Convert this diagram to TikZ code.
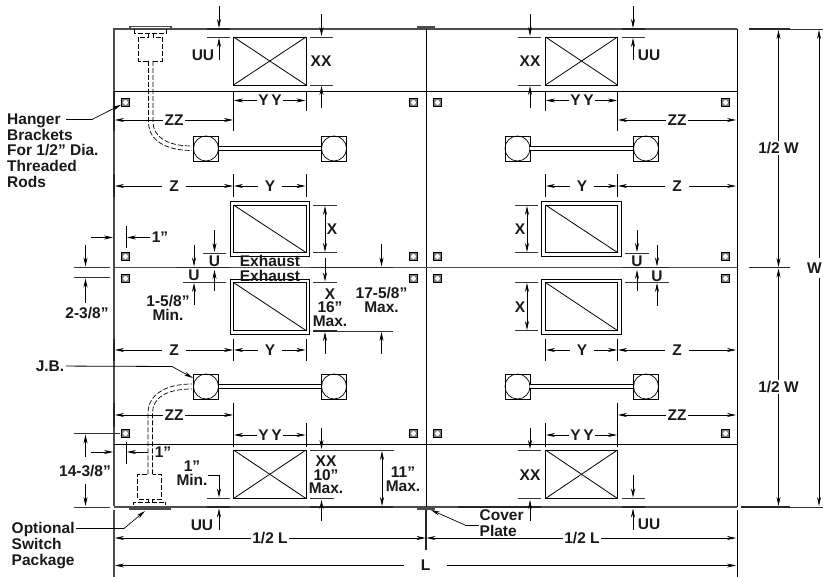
\documentclass[tikz,border=0pt]{standalone}
\usepackage{fontspec}
\setmainfont{Liberation Sans}
\usetikzlibrary{arrows.meta}

\begin{document}
\begin{tikzpicture}[x=1pt, y=-1pt,
    every node/.style={font=\fontsize{15.5}{15.7}\selectfont\bfseries, text=black!90, inner sep=1.5pt},
    dim/.style={-{Stealth[length=9pt, width=4pt]}, line width=0.7pt},
    twoway/.style={{Stealth[length=9pt, width=4pt]}-{Stealth[length=9pt, width=4pt]}, line width=0.7pt},
    ext/.style={line width=0.8pt, black!80},
    heavy/.style={line width=1.3pt, black!85},
    wall/.style={line width=1.1pt, black!70},
    thin/.style={line width=0.8pt},
    conduit/.style={line width=0.7pt, dash pattern=on 5pt off 2pt},
    jbbox/.style={rectangle, draw, line width=0.7pt, minimum size=25pt, inner sep=0pt},
    jbcirc/.style={circle, draw, line width=0.7pt, minimum size=25pt, inner sep=0pt},
    hanger/.style={rectangle, draw, line width=0.8pt, fill=black!50, minimum size=8pt, inner sep=0pt,
        path picture={\fill[white] (path picture bounding box.center) circle (2.4pt);}},
    wide/.style={inner xsep=7pt},
    stack/.style={align=center, font=\fontsize{15.5}{13.5}\selectfont\bfseries},
    leftstack/.style={align=left}]
    \useasboundingbox (0,0) rectangle (823,577);

    % frame
    \draw[wall] (114,91) -- (114,29) -- (737,29);
    \draw[wall] (114,91) -- (114,506);
    \draw[wall] (114,507) -- (737,507);
    \draw[thin] (737,29) -- (737,507);
    \draw[thin] (426,29) -- (426,507);
    \draw[thin] (114,91) -- (737,91);
    \draw[wall] (114,267.5) -- (737,267.5);
    \draw[thin] (114,444) -- (737,444);
    \draw[heavy] (114,91) -- (114,131);
    \draw[heavy] (114,174) -- (114,197);
    \draw[heavy] (114,339) -- (114,361);
    \draw[heavy] (114,403) -- (114,427);
    \draw[wall] (114,510) -- (114,577);
    \draw[thin] (737,510) -- (737,577);
    \draw[heavy] (426,510) -- (426,550);

    % cover plates
    \draw[wall] (418,29) -- (418,27) -- (434,27) -- (434,29);
    \draw[wall] (418,507) -- (418,509) -- (434,509) -- (434,507);

    % supply grilles
    \draw[thin] (233.5,37) rectangle (306,85);
    \draw[thin] (233.5,37) -- (306,85);
    \draw[thin] (233.5,85) -- (306,37);
    \draw[thin] (545.5,37) rectangle (617.5,85);
    \draw[thin] (545.5,37) -- (617.5,85);
    \draw[thin] (545.5,85) -- (617.5,37);
    \draw[thin] (233.5,450) rectangle (306,498.5);
    \draw[thin] (233.5,450) -- (306,498.5);
    \draw[thin] (233.5,498.5) -- (306,450);
    \draw[thin] (545.5,450) rectangle (617.5,498.5);
    \draw[thin] (545.5,450) -- (617.5,498.5);
    \draw[thin] (545.5,498.5) -- (617.5,450);

    % exhaust grilles
    \draw[thin] (230,201) rectangle (309.5,256);
    \draw[thin] (233.5,205) rectangle (306,252.5);
    \draw[thin] (233.5,205) -- (306,252.5);
    \draw[thin] (230,279) rectangle (309.5,334);
    \draw[thin] (233.5,282.5) rectangle (306,330.5);
    \draw[thin] (233.5,282.5) -- (306,330.5);
    \draw[thin] (541.5,201) rectangle (621.5,256);
    \draw[thin] (545.5,205) rectangle (617.5,252.5);
    \draw[thin] (545.5,205) -- (617.5,252.5);
    \draw[thin] (541.5,279) rectangle (621.5,334);
    \draw[thin] (545.5,282.5) rectangle (617.5,330.5);
    \draw[thin] (545.5,282.5) -- (617.5,330.5);

    % junction boxes
    \node[jbbox] (b1) at (206,148.5) {};
    \node[jbbox] (b2) at (334,148.5) {};
    \node[jbbox] (b3) at (517.5,148.5) {};
    \node[jbbox] (b4) at (646,148.5) {};
    \node[jbbox] (b5) at (206,386.5) {};
    \node[jbbox] (b6) at (334,386.5) {};
    \node[jbbox] (b7) at (517.5,386.5) {};
    \node[jbbox] (b8) at (646,386.5) {};
    \node[jbcirc] (j1) at (206,148.5) {};
    \node[jbcirc] (j2) at (334,148.5) {};
    \node[jbcirc] (j3) at (517.5,148.5) {};
    \node[jbcirc] (j4) at (646,148.5) {};
    \node[jbcirc] (j5) at (206,386.5) {};
    \node[jbcirc] (j6) at (334,386.5) {};
    \node[jbcirc] (j7) at (517.5,386.5) {};
    \node[jbcirc] (j8) at (646,386.5) {};
    \draw[double, double distance=3.2pt, line width=0.7pt] (j1) -- (j2);
    \draw[double, double distance=3.2pt, line width=0.7pt] (j3) -- (j4);
    \draw[double, double distance=3.2pt, line width=0.7pt] (j5) -- (j6);
    \draw[double, double distance=3.2pt, line width=0.7pt] (j7) -- (j8);

    % hanger brackets
    \node[hanger] (h1) at (125.5,102.5) {};
    \node[hanger] (h2) at (413.5,102.5) {};
    \node[hanger] (h3) at (437.5,102.5) {};
    \node[hanger] (h4) at (725.5,102.5) {};
    \node[hanger] (h5) at (125.5,256.5) {};
    \node[hanger] (h6) at (413.5,256.5) {};
    \node[hanger] (h7) at (437.5,256.5) {};
    \node[hanger] (h8) at (725.5,256.5) {};
    \node[hanger] (h9) at (125.5,278.5) {};
    \node[hanger] (h10) at (413.5,278.5) {};
    \node[hanger] (h11) at (437.5,278.5) {};
    \node[hanger] (h12) at (725.5,278.5) {};
    \node[hanger] (h13) at (125.5,433.5) {};
    \node[hanger] (h14) at (413.5,433.5) {};
    \node[hanger] (h15) at (437.5,433.5) {};
    \node[hanger] (h16) at (725.5,433.5) {};

    % switch package, top
    \draw[wall] (130,29) -- (130,26.5) -- (171,26.5) -- (171,29);
    \draw[conduit] (134.5,29) -- (134.5,33) -- (166.5,33) -- (166.5,29);
    \draw[conduit] (148,33) -- (148,37) -- (138.5,37) -- (138.5,61) -- (148.5,61);
    \draw[conduit] (153,33) -- (153,37) -- (162.5,37) -- (162.5,61) -- (153,61);
    \draw[conduit] (148.5,61) -- (148.5,122) .. controls (148.5,140) and (165,150.5) .. (192,150.5);
    \draw[conduit] (153,61) -- (153,122) .. controls (153,136) and (166,146) .. (192,146);

    % switch package, bottom
    \draw[wall] (130,507) -- (130,509) -- (170,509) -- (170,507);
    \draw[conduit] (133.5,505) -- (133.5,502) -- (165.5,502) -- (165.5,505);
    \draw[conduit] (148,502) -- (148,499) -- (137.5,499) -- (137.5,474.5) -- (148,474.5);
    \draw[conduit] (152.5,502) -- (152.5,499) -- (161.5,499) -- (161.5,474.5) -- (152.5,474.5);
    \draw[conduit] (148,474.5) -- (148,413) .. controls (148,395) and (165,384) .. (192,384);
    \draw[conduit] (152.5,474.5) -- (152.5,413) .. controls (152.5,398) and (166,389) .. (192,389);

    % labels with leaders
    \node[leftstack, anchor=north west] (hang) at (5.5,112) {Hanger\\Brackets\\For 1/2" Dia.\\Threaded\\Rods};
    \coordinate (hang1) at (92,119.5);
    \draw[thin] (66,119.5) -- (hang1);
    \draw[dim] (hang1) -- (h1);
    \node (jbl) at (50,366) {J.B.};
    \coordinate (jbl1) at (172,366.5);
    \draw[thin] (jbl) -- (jbl1);
    \draw[dim] (jbl1) -- (193,378);
    \node[leftstack, anchor=north west] (switch) at (10,521) {Optional\\Switch\\Package};
    \coordinate (switch1) at (124,528.5);
    \draw[thin] (76,528.5) -- (switch1);
    \draw[dim] (switch1) -- (145,511);
    \node[leftstack, anchor=north west] (cover) at (478,508) {Cover\\Plate};
    \coordinate (cover1) at (465,525);
    \draw[thin] (479,525) -- (cover1);
    \draw[dim] (cover1) -- (431,510);

    % UU, upper
    \draw[heavy] (207,29) -- (230,29);
    \draw[ext] (207,37) -- (230,37);
    \draw[dim] (219,6) -- (219,28);
    \draw[dim] (219,60) -- (219,38);
    \node (uu1) at (203,55) {UU};
    \draw[heavy] (622,29) -- (645,29);
    \draw[ext] (622,37) -- (645,37);
    \draw[dim] (633,6) -- (633,28);
    \draw[dim] (633,60) -- (633,38);
    \node (uu2) at (649,55.5) {UU};

    % XX, upper
    \draw[ext] (310,37) -- (333,37);
    \draw[ext] (310,85) -- (333,85);
    \draw[dim] (321.5,14) -- (321.5,36);
    \draw[dim] (321.5,108) -- (321.5,86);
    \node (xx1) at (321,61.5) {XX};
    \draw[ext] (518,37) -- (541,37);
    \draw[ext] (518,85) -- (541,85);
    \draw[dim] (530,14) -- (530,36);
    \draw[dim] (530,108) -- (530,86);
    \node (xx2) at (530,61.5) {XX};

    % YY, upper
    \node (yy1) at (270,100.5) {Y\,Y};
    \draw[thin] (233.5,91) -- (233.5,111);
    \draw[thin] (306,91) -- (306,111);
    \draw[dim] (yy1) -- (234,100.5);
    \draw[dim] (yy1) -- (305.5,100.5);
    \node (yy2) at (582,100.5) {Y\,Y};
    \draw[thin] (545.5,91) -- (545.5,111);
    \draw[thin] (617.5,91) -- (617.5,131);
    \draw[dim] (yy2) -- (546,100.5);
    \draw[dim] (yy2) -- (617,100.5);

    % ZZ, upper
    \node (zz1) at (174,120) {ZZ};
    \draw[thin] (233.5,111) -- (233.5,131);
    \draw[dim] (zz1) -- (115,120);
    \draw[dim] (zz1) -- (233,120);
    \node (zz2) at (677,120) {ZZ};
    \draw[dim] (zz2) -- (618,120);
    \draw[dim] (zz2) -- (736,120);

    % Z and Y, upper
    \node[wide] (z1) at (174,186) {Z};
    \node[wide] (y1) at (270,186) {Y};
    \draw[thin] (233.5,174) -- (233.5,197);
    \draw[thin] (306,174) -- (306,197);
    \draw[dim] (z1) -- (115,186);
    \draw[dim] (z1) -- (233,186);
    \draw[dim] (y1) -- (234,186);
    \draw[dim] (y1) -- (305.5,186);
    \node[wide] (y2) at (582,186) {Y};
    \node[wide] (z2) at (677,186) {Z};
    \draw[thin] (545.5,174) -- (545.5,197);
    \draw[thin] (617.5,174) -- (617.5,197);
    \draw[dim] (y2) -- (546,186);
    \draw[dim] (y2) -- (617,186);
    \draw[dim] (z2) -- (618,186);
    \draw[dim] (z2) -- (736,186);

    % X, upper and lower
    \draw[ext] (313,205) -- (337,205);
    \draw[ext] (313,252.5) -- (337,252.5);
    \draw[twoway] (325,206) -- (325,252);
    \node (x1) at (332,229) {X};
    \draw[ext] (515,205) -- (538,205);
    \draw[ext] (515,252.5) -- (538,252.5);
    \draw[twoway] (527,206) -- (527,252);
    \node (x2) at (520,229.5) {X};
    \draw[ext] (515,282.5) -- (538,282.5);
    \draw[ext] (515,330.5) -- (538,330.5);
    \draw[twoway] (527,283) -- (527,330);
    \node (x3) at (520,307) {X};

    % 1 inch, upper
    \draw[thin] (126,226) -- (126,248);
    \node (one1) at (160,237.5) {1"};
    \draw[dim] (one1) -- (127,237.5);
    \draw[dim] (91,237.5) -- (113,237.5);

    % 2-3/8
    \draw[ext] (74,267.5) -- (110,267.5);
    \draw[ext] (74,277.5) -- (110,277.5);
    \draw[dim] (85.5,245) -- (85.5,266.5);
    \draw[dim] (85.5,303) -- (85.5,278.5);
    \node (tt) at (87,313) {2-3/8"};

    % U, left
    \draw[heavy] (176,267.5) -- (230,267.5);
    \draw[ext] (203,253) -- (226,253);
    \draw[ext] (183,282) -- (226,282);
    \draw[dim] (214.5,230) -- (214.5,252);
    \draw[dim] (214.5,291) -- (214.5,270);
    \draw[dim] (194,245) -- (194,266.5);
    \draw[dim] (194,305) -- (194,283);
    \node (u1) at (214.5,261) {U};
    \node (u2) at (194,275.5) {U};

    % U, right
    \draw[heavy] (622,267.5) -- (669,267.5);
    \draw[ext] (625,253) -- (649,253);
    \draw[ext] (625,282) -- (669,282);
    \draw[dim] (637,230) -- (637,252);
    \draw[dim] (637,291) -- (637,270);
    \draw[dim] (657,245) -- (657,266.5);
    \draw[dim] (657,306) -- (657,283);
    \node (u3) at (637,261) {U};
    \node (u4) at (657,276) {U};

    % exhaust text
    \node (ex1) at (270,261) {Exhaust};
    \node (ex2) at (270,276) {Exhaust};
    \node[stack] (min1) at (168,308) {1-5/8"\\Min.};

    % X 16 Max and 17-5/8 Max
    \draw[heavy] (310,267.5) -- (393,267.5);
    \draw[ext] (313,282) -- (337,282);
    \draw[dim] (325,258) -- (325,281.5);
    \draw[ext] (313,331) -- (393,331);
    \draw[heavy] (313,331) -- (337,331);
    \draw[dim] (325,354) -- (325,332);
    \draw[dim] (381.5,244) -- (381.5,266.5);
    \draw[dim] (381.5,354) -- (381.5,332);
    \node[stack] (maxa) at (330,307.5) {X\\16"\\Max.};
    \node[stack] (maxb) at (381.5,300) {17-5/8"\\Max.};

    % Z and Y, lower
    \node[wide] (z3) at (174,350) {Z};
    \node[wide] (y3) at (270,350) {Y};
    \draw[thin] (233.5,339) -- (233.5,361);
    \draw[thin] (306,339) -- (306,361);
    \draw[dim] (z3) -- (115,350);
    \draw[dim] (z3) -- (233,350);
    \draw[dim] (y3) -- (234,350);
    \draw[dim] (y3) -- (305.5,350);
    \node[wide] (y4) at (582,350) {Y};
    \node[wide] (z4) at (677,350) {Z};
    \draw[thin] (545.5,339) -- (545.5,361);
    \draw[thin] (617.5,339) -- (617.5,361);
    \draw[dim] (y4) -- (546,350);
    \draw[dim] (y4) -- (617,350);
    \draw[dim] (z4) -- (618,350);
    \draw[dim] (z4) -- (736,350);

    % ZZ and YY, lower
    \node (zz3) at (174,415) {ZZ};
    \draw[thin] (233.5,403) -- (233.5,447);
    \draw[dim] (zz3) -- (115,415);
    \draw[dim] (zz3) -- (233,415);
    \node (zz4) at (677,415) {ZZ};
    \draw[thin] (617.5,403) -- (617.5,447);
    \draw[dim] (zz4) -- (618,415);
    \draw[dim] (zz4) -- (736,415);
    \node (yy3) at (270,435) {Y\,Y};
    \draw[thin] (306,423) -- (306,447);
    \draw[dim] (yy3) -- (234,435);
    \draw[dim] (yy3) -- (305.5,435);
    \node (yy4) at (582,435) {Y\,Y};
    \draw[thin] (545.5,423) -- (545.5,447);
    \draw[dim] (yy4) -- (546,435);
    \draw[dim] (yy4) -- (617,435);

    % 14-3/8
    \draw[ext] (74,433.5) -- (120,433.5);
    \draw[ext] (74,507) -- (110,507);
    \draw[dim] (85.5,457) -- (85.5,434.5);
    \draw[dim] (85.5,484) -- (85.5,506);
    \node (ft) at (85,471) {14-3/8"};

    % 1 inch, lower
    \draw[thin] (126,442) -- (126,464);
    \node (one2) at (163,452) {1"};
    \draw[dim] (148,452) -- (127,452);
    \draw[dim] (91,452) -- (113,452);

    % UU, lower
    \node[stack] (min2) at (192,473) {1"\\Min.};
    \coordinate (min3) at (219,475.5);
    \draw[thin] (208,475.5) -- (min3);
    \draw[dim] (min3) -- (219,497.5);
    \draw[ext] (207,498.5) -- (230,498.5);
    \draw[heavy] (207,507) -- (230,507);
    \draw[dim] (219,530) -- (219,508.5);
    \node (uu3) at (202,525) {UU};
    \draw[ext] (622,498.5) -- (645,498.5);
    \draw[heavy] (622,507) -- (645,507);
    \draw[dim] (633,475.5) -- (633,497.5);
    \draw[dim] (633,530) -- (633,508.5);
    \node (uu4) at (649,524.5) {UU};

    % XX, lower
    \draw[ext] (310,450) -- (394,450);
    \draw[ext] (310,498.5) -- (334,498.5);
    \draw[heavy] (310,507) -- (393,507);
    \draw[dim] (321.5,428) -- (321.5,449);
    \draw[dim] (321.5,521) -- (321.5,500);
    \node[stack] (xx3) at (326,475) {XX\\10"\\Max.};
    \draw[twoway] (382,451) -- (382,506);
    \node[stack] (max3) at (403,479) {11"\\Max.};
    \draw[ext] (518,450) -- (541,450);
    \draw[ext] (518,498.5) -- (541,498.5);
    \draw[heavy] (458,507) -- (541,507);
    \draw[dim] (530,428) -- (530,449);
    \draw[dim] (530,521) -- (530,500);
    \node (xx4) at (530,475) {XX};

    % L dimensions
    \node (hl1) at (270,538) {1/2 L};
    \draw[dim] (hl1) -- (115,538);
    \draw[dim] (hl1) -- (425.5,538);
    \node (hl2) at (582,538) {1/2 L};
    \draw[dim] (hl2) -- (426.5,538);
    \draw[dim] (hl2) -- (736,538);
    \node[inner xsep=17pt] (l) at (425.5,565.5) {L};
    \draw[dim] (l) -- (115,565.5);
    \draw[dim] (l) -- (736,565.5);

    % W dimensions
    \draw[ext] (749,29) -- (823,29);
    \draw[heavy] (749,29) -- (790,29);
    \draw[heavy] (749,267.5) -- (790,267.5);
    \draw[ext] (741,507) -- (823,507);
    \draw[heavy] (741,507) -- (790,507);
    \node (hw1) at (778.5,148) {1/2 W};
    \draw[dim] (hw1) -- (778.5,30);
    \draw[dim] (hw1) -- (778.5,267);
    \node (hw2) at (778.5,387) {1/2 W};
    \draw[dim] (hw2) -- (778.5,268.5);
    \draw[dim] (hw2) -- (778.5,506);
    \node (w) at (814.5,268) {W};
    \coordinate (wa) at (819,258);
    \coordinate (wb) at (819,278);
    \draw[dim] (wa) -- (819,30);
    \draw[dim] (wb) -- (819,506);
\end{tikzpicture}
\end{document}
